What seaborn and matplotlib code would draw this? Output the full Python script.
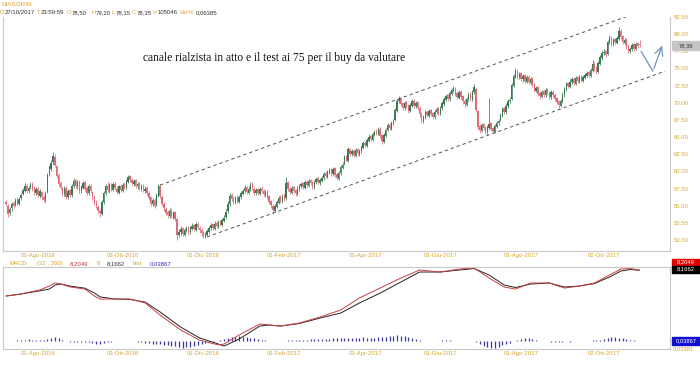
import numpy as np
import pandas as pd
import matplotlib
matplotlib.use("Agg")
import matplotlib.pyplot as plt
import seaborn as sns
from matplotlib.patches import Rectangle

# ---------------- data ----------------
open_ = [55.6, 55.0, 53.9, 54.6, 55.4, 55.1, 55.9, 55.3, 56.1, 56.7, 57.2, 57.9, 57.1, 57.7, 58.1, 57.6, 56.9, 57.5, 56.4, 57.0,
         56.3, 55.8, 57.0, 59.6, 60.4, 61.3, 62.1, 60.8, 59.5, 58.3, 57.5, 56.7, 57.6, 56.2, 57.3, 56.5, 57.9, 58.7, 57.8, 58.5,
         57.1, 57.6, 58.4, 57.6, 56.8, 57.9, 57.0, 56.3, 55.5, 54.8, 54.3, 53.8, 55.5, 56.8, 57.9, 57.2, 58.1, 57.3, 58.2, 57.5,
         56.9, 57.9, 57.2, 58.1, 57.6, 58.5, 59.3, 58.8, 58.2, 58.7, 57.8, 58.3, 57.5, 57.9, 57.2, 57.6, 56.9, 56.2, 55.2, 55.9,
         55.1, 56.4, 57.9, 56.3, 55.3, 54.5, 54.1, 53.5, 54.3, 53.4, 54.1, 53.0, 50.7, 51.1, 51.7, 50.8, 51.4, 51.9, 51.1, 51.6,
         52.2, 51.5, 52.4, 51.8, 51.5, 51.1, 50.5, 50.8, 51.2, 51.7, 52.3, 51.6, 52.5, 51.9, 52.7, 52.2, 52.8, 53.3, 54.2, 55.2,
         56.5, 56.1, 55.5, 56.2, 55.6, 56.3, 56.7, 57.1, 57.7, 56.9, 57.4, 58.2, 57.5, 56.8, 57.4, 56.7, 57.5, 57.2, 56.6, 57.1,
         56.4, 55.7, 55.0, 54.3, 54.8, 55.4, 56.2, 55.6, 56.5, 56.1, 58.4, 57.5, 56.9, 57.7, 57.3, 56.7, 57.4, 57.8, 58.3, 57.6,
         58.5, 57.9, 58.7, 58.4, 57.7, 58.4, 59.0, 58.3, 58.6, 59.0, 59.7, 59.2, 59.8, 60.3, 59.6, 60.5, 59.6, 58.9, 59.7, 60.5,
         61.1, 62.2, 61.5, 63.3, 62.5, 63.0, 62.3, 63.2, 62.6, 62.9, 63.4, 64.2, 63.7, 64.5, 65.1, 64.6, 65.3, 65.9, 65.5, 66.2,
         65.3, 64.3, 65.2, 66.1, 66.8, 66.2, 66.9, 67.5, 68.8, 70.2, 70.7, 69.9, 69.2, 70.1, 69.6, 68.8, 69.6, 70.3, 69.5, 70.1,
         69.3, 68.4, 67.3, 67.8, 68.7, 68.1, 68.9, 68.5, 67.9, 68.6, 69.2, 68.4, 69.2, 69.8, 70.4, 71.1, 70.5, 71.3, 71.7, 72.2,
         71.4, 70.7, 71.6, 71.0, 70.3, 69.7, 70.5, 71.3, 70.4, 71.5, 72.0, 68.8, 66.6, 65.9, 66.9, 66.4, 65.7, 66.3, 67.0, 66.3,
         65.8, 66.5, 67.0, 67.5, 68.1, 69.2, 68.6, 69.5, 70.3, 70.6, 72.5, 73.8, 74.7, 73.7, 74.3, 73.4, 74.0, 73.1, 73.8, 72.9,
         73.5, 72.7, 71.7, 72.3, 71.4, 70.9, 71.7, 71.1, 72.0, 71.5, 70.8, 71.6, 71.2, 70.7, 70.2, 69.6, 70.2, 71.1, 71.9, 72.9,
         72.3, 73.0, 73.5, 72.8, 73.7, 73.1, 73.9, 73.2, 73.6, 73.9, 74.5, 73.9, 74.7, 75.7, 75.1, 74.5, 75.7, 76.5, 77.3, 77.5,
         77.1, 78.8, 79.6, 78.5, 79.3, 78.7, 79.3, 80.5, 79.7, 78.7, 79.2, 78.3, 77.5, 77.8, 78.5, 77.9, 78.7, 78.5]
close = [55.2, 53.8, 54.5, 55.3, 55.0, 55.8, 55.4, 56.0, 56.6, 57.3, 57.9, 57.2, 57.6, 58.2, 57.5, 57.0, 57.4, 56.5, 57.1, 56.2,
         55.9, 56.8, 59.5, 60.6, 61.2, 62.3, 61.0, 59.4, 58.2, 57.6, 56.8, 57.5, 56.3, 57.2, 56.6, 57.8, 58.6, 57.9, 58.4, 57.2,
         57.7, 58.3, 57.5, 56.9, 57.8, 57.1, 56.2, 55.4, 54.9, 54.2, 53.9, 55.6, 56.9, 57.8, 57.3, 58.0, 57.4, 58.1, 57.6, 57.0,
         57.8, 57.3, 58.0, 57.7, 58.6, 59.2, 58.7, 58.3, 58.6, 57.9, 58.2, 57.6, 57.8, 57.3, 57.5, 56.8, 56.1, 55.3, 55.8, 55.0,
         56.5, 57.8, 56.4, 55.2, 54.6, 54.0, 53.6, 54.2, 53.5, 54.0, 53.1, 50.8, 51.2, 51.6, 50.9, 51.5, 51.8, 51.2, 51.7, 52.1,
         51.6, 52.3, 51.9, 51.4, 51.0, 50.6, 50.9, 51.3, 51.8, 52.2, 51.7, 52.4, 52.0, 52.6, 52.3, 52.9, 53.2, 54.1, 55.3, 56.4,
         56.0, 55.6, 56.1, 55.7, 56.2, 56.8, 57.2, 57.6, 57.0, 57.5, 58.1, 57.6, 56.9, 57.3, 56.8, 57.4, 57.1, 56.7, 57.0, 56.3,
         55.6, 55.1, 54.4, 54.9, 55.5, 56.1, 55.7, 56.4, 56.0, 58.3, 57.4, 57.0, 57.6, 57.2, 56.8, 57.5, 57.9, 58.2, 57.7, 58.4,
         58.0, 58.6, 58.3, 57.8, 58.5, 58.9, 58.4, 58.7, 59.1, 59.6, 59.3, 59.9, 60.2, 59.7, 60.4, 59.5, 59.0, 59.8, 60.6, 61.0,
         62.1, 61.6, 63.2, 62.6, 62.9, 62.4, 63.1, 62.7, 63.0, 63.5, 64.1, 63.8, 64.6, 65.0, 64.7, 65.4, 65.8, 65.6, 66.1, 65.2,
         64.4, 65.3, 66.0, 66.7, 66.3, 67.0, 67.4, 68.9, 70.3, 70.6, 69.8, 69.3, 70.0, 69.5, 68.9, 69.7, 70.2, 69.6, 70.0, 69.2,
         68.3, 67.4, 67.9, 68.6, 68.2, 68.8, 68.4, 68.0, 68.7, 69.1, 68.5, 69.3, 69.9, 70.5, 71.0, 70.6, 71.4, 71.8, 72.1, 71.3,
         70.8, 71.5, 70.9, 70.2, 69.8, 70.6, 71.2, 70.5, 71.6, 72.3, 69.0, 66.5, 66.0, 66.8, 66.3, 65.8, 66.4, 66.9, 66.2, 65.9,
         66.6, 67.1, 67.4, 68.2, 69.1, 68.7, 69.6, 70.2, 70.4, 72.6, 73.9, 74.6, 73.8, 74.2, 73.5, 73.9, 73.2, 73.7, 73.0, 73.4,
         72.6, 71.8, 72.2, 71.3, 71.0, 71.6, 71.2, 71.9, 71.4, 70.9, 71.5, 71.1, 70.6, 70.1, 69.7, 70.3, 71.2, 72.0, 72.8, 72.4,
         73.1, 73.4, 72.9, 73.6, 73.2, 73.8, 73.3, 73.7, 74.0, 74.4, 74.0, 74.8, 75.6, 75.0, 74.6, 75.8, 76.6, 77.2, 77.4, 77.0,
         78.9, 79.5, 78.6, 79.2, 78.8, 79.4, 80.4, 79.6, 78.8, 79.1, 78.2, 77.6, 77.9, 78.4, 77.8, 78.6, 78.3, 78.35]
high = [55.9, 55.2, 54.8, 55.6, 55.7, 56.1, 56.2, 56.3, 56.9, 57.6, 58.3, 58.1, 57.9, 58.5, 58.4, 57.8, 57.7, 57.7, 57.4, 57.2,
        56.5, 57.1, 59.8, 61.0, 61.6, 62.8, 62.5, 61.0, 59.7, 58.6, 57.7, 57.8, 57.8, 57.5, 57.5, 58.1, 59.0, 58.9, 58.7, 58.7,
        58.0, 58.6, 58.6, 57.8, 58.1, 58.1, 57.2, 56.5, 55.8, 55.1, 54.5, 55.9, 57.2, 58.1, 58.4, 58.3, 58.3, 58.4, 58.4, 57.8,
        58.0, 58.1, 58.3, 58.4, 58.9, 59.5, 59.5, 59.0, 58.9, 58.9, 58.5, 58.5, 58.1, 58.1, 57.8, 57.8, 57.1, 56.4, 56.1, 56.1,
        56.8, 58.2, 58.1, 56.5, 55.5, 54.8, 54.4, 54.6, 54.6, 54.3, 54.3, 53.2, 51.6, 52.0, 51.9, 51.8, 52.1, 52.1, 52.0, 52.5,
        52.4, 52.6, 52.6, 52.0, 51.7, 51.3, 51.2, 51.6, 52.1, 52.5, 52.5, 52.7, 52.7, 52.9, 52.9, 53.2, 53.6, 54.5, 55.7, 56.8,
        56.9, 56.4, 56.4, 56.5, 56.5, 57.1, 57.5, 58.0, 57.9, 57.8, 58.4, 58.4, 57.7, 57.6, 57.6, 57.7, 57.8, 57.4, 57.3, 57.3,
        56.6, 55.9, 55.2, 55.2, 55.8, 56.4, 56.5, 56.7, 56.8, 59.2, 58.6, 57.7, 57.9, 57.9, 57.5, 57.8, 58.2, 58.5, 58.5, 58.7,
        58.7, 58.9, 58.9, 58.6, 58.8, 59.2, 59.2, 59.0, 59.4, 59.9, 60.0, 60.2, 60.5, 60.5, 60.6, 60.7, 59.8, 60.1, 60.9, 61.4,
        62.4, 62.4, 63.5, 63.4, 63.2, 63.2, 63.4, 63.4, 63.3, 63.8, 64.4, 64.5, 64.9, 65.4, 65.3, 65.7, 66.1, 66.2, 66.5, 66.4,
        65.5, 65.6, 66.3, 67.0, 67.0, 67.3, 67.7, 69.3, 70.6, 71.0, 70.9, 70.1, 70.3, 70.3, 69.8, 70.0, 70.5, 70.5, 70.3, 70.3,
        69.5, 68.6, 68.2, 68.9, 68.9, 69.1, 69.1, 68.7, 69.0, 69.4, 69.4, 69.6, 70.2, 70.8, 71.3, 71.3, 71.7, 72.1, 72.4, 72.3,
        71.6, 71.8, 71.8, 71.2, 70.5, 70.9, 71.5, 71.5, 71.9, 72.8, 72.2, 69.0, 66.9, 67.1, 67.1, 66.6, 66.7, 70.7, 67.2, 66.5,
        66.9, 67.4, 67.7, 68.5, 69.4, 69.4, 69.9, 70.5, 70.8, 72.9, 74.2, 75.0, 74.9, 74.5, 74.5, 74.2, 74.2, 74.0, 74.0, 73.7,
        73.7, 72.9, 72.5, 72.5, 71.7, 71.9, 71.9, 72.2, 72.2, 71.7, 71.8, 71.8, 71.4, 70.9, 70.4, 70.6, 71.5, 72.3, 73.1, 73.1,
        73.4, 73.7, 73.7, 73.9, 73.9, 74.1, 74.1, 74.0, 74.3, 74.7, 74.7, 75.1, 76.2, 75.9, 75.3, 76.1, 76.9, 77.6, 77.8, 77.7,
        79.2, 79.9, 79.8, 79.5, 79.5, 79.7, 81.0, 80.7, 79.9, 79.4, 79.4, 78.5, 78.2, 78.7, 78.7, 78.9, 78.9, 79.2]
low = [54.9, 53.3, 53.6, 54.3, 54.7, 54.9, 55.1, 55.1, 55.9, 56.5, 57.0, 56.9, 56.8, 57.4, 57.2, 56.6, 56.6, 56.2, 56.1, 55.9,
       55.6, 55.6, 56.8, 59.3, 60.1, 61.0, 60.7, 59.1, 57.9, 57.3, 56.4, 56.4, 56.0, 56.0, 56.3, 56.3, 57.6, 57.6, 57.5, 56.9,
       56.8, 57.4, 57.2, 56.6, 56.6, 56.8, 55.9, 55.1, 54.6, 53.9, 53.3, 53.6, 55.3, 56.6, 57.0, 56.9, 57.1, 57.1, 57.3, 56.7,
       56.7, 57.0, 57.0, 57.4, 57.4, 58.3, 58.4, 58.0, 57.9, 57.6, 57.5, 57.3, 57.2, 57.0, 56.9, 56.5, 55.8, 55.0, 54.9, 54.7,
       54.9, 56.2, 56.1, 54.9, 54.2, 53.6, 53.2, 53.2, 53.2, 53.1, 52.8, 50.0, 50.4, 50.8, 50.6, 50.6, 51.1, 50.9, 50.9, 51.4,
       51.3, 51.3, 51.6, 51.0, 50.6, 50.3, 50.3, 50.6, 51.0, 51.5, 51.4, 51.4, 51.7, 51.7, 52.0, 52.0, 52.6, 53.1, 54.0, 55.0,
       55.7, 55.3, 55.3, 55.4, 55.4, 56.0, 56.5, 56.9, 56.7, 56.7, 57.2, 57.3, 56.6, 56.5, 56.5, 56.5, 56.8, 56.4, 56.3, 56.0,
       55.3, 54.7, 53.8, 54.1, 54.6, 55.2, 55.4, 55.4, 55.7, 55.9, 57.1, 56.7, 56.7, 56.9, 56.4, 56.5, 57.2, 57.6, 57.4, 57.4,
       57.7, 57.7, 58.0, 57.4, 57.5, 58.2, 58.1, 58.0, 58.4, 58.8, 59.0, 59.0, 59.6, 59.4, 59.4, 59.2, 58.7, 58.7, 59.5, 60.3,
       60.9, 61.3, 61.3, 62.3, 62.2, 62.1, 62.1, 62.4, 62.3, 62.7, 63.2, 63.5, 63.5, 64.3, 64.4, 64.4, 65.1, 65.3, 65.3, 64.9,
       64.0, 64.1, 65.0, 65.9, 66.0, 66.0, 66.7, 67.3, 68.6, 69.9, 69.5, 69.0, 69.0, 69.2, 68.5, 68.6, 69.4, 69.3, 69.3, 68.9,
       68.0, 67.0, 67.1, 67.6, 67.9, 67.9, 68.1, 67.6, 67.7, 68.4, 68.2, 68.2, 69.0, 69.6, 70.2, 70.3, 70.3, 71.1, 71.5, 71.0,
       70.5, 70.5, 70.6, 69.8, 69.4, 69.5, 70.3, 70.2, 70.2, 71.3, 68.6, 66.1, 65.6, 65.7, 66.0, 65.4, 65.5, 66.1, 65.9, 65.6,
       65.6, 66.3, 66.8, 67.3, 67.9, 68.4, 68.4, 69.3, 70.0, 70.4, 72.3, 73.6, 73.5, 73.4, 73.2, 73.1, 72.9, 72.9, 72.7, 72.6,
       72.3, 71.5, 71.5, 71.0, 70.6, 70.7, 70.9, 70.9, 71.1, 70.6, 70.6, 70.8, 70.3, 69.8, 69.2, 69.4, 70.0, 70.9, 71.7, 72.1,
       72.1, 72.8, 72.6, 72.6, 72.9, 72.9, 73.0, 73.0, 73.4, 73.7, 73.7, 73.7, 74.5, 74.7, 74.2, 74.3, 75.5, 76.3, 77.0, 76.6,
       76.9, 78.6, 78.3, 78.3, 78.5, 78.5, 79.1, 79.3, 78.5, 78.4, 77.9, 77.3, 77.3, 77.6, 77.5, 77.7, 78.0, 78.15]

# MACD (red) and signal (black), read at selected bars
macd_bar = [0, 7, 18, 23, 26, 29, 34, 42, 47, 50, 58, 66, 74, 82, 93, 103, 113, 116, 124, 135,
            140, 146, 156, 167, 178, 188, 199, 210, 220, 231, 241, 249, 257, 265, 271, 279, 289, 297, 305, 313,
            321, 327, 332, 337]
macd = [5.2, 5.4, 5.9, 6.35, 6.7, 6.6, 6.25, 6.0, 5.2, 4.85, 4.85, 4.85, 4.4, 3.0, 1.27, 0.1, -0.45, -0.35, 0.7, 1.96,
        1.85, 1.73, 2.08, 2.77, 3.58, 4.97, 6.12, 7.27, 8.2, 7.97, 8.31, 8.43, 7.27, 6.24, 6.0, 6.7, 6.7, 6.12, 6.35, 6.7,
        7.62, 8.31, 8.37, 8.2049]
signal = [5.2, 5.4, 5.8, 6.0, 6.45, 6.6, 6.35, 6.1, 5.55, 5.1, 4.85, 4.8, 4.5, 3.35, 1.6, 0.35, -0.35, -0.58, 0.23, 1.73,
          1.85, 1.73, 2.02, 2.65, 3.23, 4.39, 5.54, 6.81, 7.97, 7.97, 8.2, 8.37, 7.62, 6.47, 6.18, 6.58, 6.7, 6.24, 6.35, 6.64,
          7.39, 8.08, 8.26, 8.1662]
# histogram, one value every second bar
hist = [0.05, 0.06, 0.05, 0.08, 0.12, 0.16, 0.18, 0.15,
        0.10, 0.08, 0.12, 0.25, 0.38, 0.45, 0.30,
        0.08, -0.05, -0.10, -0.12, -0.15, -0.12, -0.10, -0.14,
        -0.25, -0.32, -0.35, -0.28, -0.15, -0.06,
        -0.03, 0.02, -0.02, 0.03, 0.01, -0.04, -0.06,
        -0.12, -0.2, -0.26, -0.3, -0.36, -0.4, -0.45, -0.5,
        -0.55, -0.62, -0.7, -0.75, -0.72, -0.65, -0.55, -0.45,
        -0.35, -0.25, -0.15, -0.06, 0.05, 0.15, 0.25,
        0.35, 0.45, 0.52, 0.55, 0.5, 0.45, 0.38, 0.3, 0.22, 0.15,
        0.08, 0.04, 0.02, 0.03, 0.05, 0.06,
        0.08, 0.1, 0.1, 0.12, 0.15, 0.14, 0.18, 0.2, 0.22, 0.2, 0.25, 0.28, 0.3, 0.32,
        0.35, 0.32, 0.38, 0.4, 0.35, 0.38, 0.42, 0.4, 0.36, 0.4, 0.45, 0.48, 0.5, 0.55, 0.6,
        0.65, 0.62, 0.58, 0.5, 0.4, 0.25, 0.12,
        0.05, 0.02, 0.0, 0.03, 0.06, 0.08, 0.1, 0.08, 0.06, 0.05, 0.04, 0.03, 0.02, 0.0,
        -0.15, -0.35, -0.55, -0.7, -0.8, -0.75, -0.65, -0.5, -0.35, -0.2, -0.05,
        0.15, 0.28, 0.35, 0.3, 0.22, 0.12, 0.05,
        0.02, -0.03, -0.06, -0.08, -0.1, -0.08, -0.05, -0.06, -0.04, -0.02, 0.02, 0.05, 0.06, 0.08, 0.1,
        0.15, 0.25, 0.35, 0.42, 0.45, 0.4, 0.32, 0.25, 0.15, 0.08, 0.04]

tick_dates = ["2016-08-01", "2016-10-03", "2016-12-01", "2017-02-01", "2017-04-03",
              "2017-06-01", "2017-08-01", "2017-10-02"]
tick_labels = ["01-Ago-2016", "03-Ott-2016", "01-Dic-2016", "01-Feb-2017", "03-Apr-2017",
               "01-Giu-2017", "01-Ago-2017", "02-Ott-2017"]
price_ticks = [50.0, 52.5, 55.0, 57.5, 60.0, 62.5, 65.0, 67.5, 70.0, 72.5, 75.0, 77.5, 80.0, 82.5]
holidays = ["2016-12-26", "2017-04-14", "2017-04-17", "2017-05-01"]

# hand-drawn annotations (bar index, price)
upper_channel = ([81.9, 342.6], [58.0, 83.8])
lower_channel = ([106.9, 350.5], [50.44, 74.6])
arrow_path = ([337.8, 344.1, 349.5], [77.5, 74.6, 78.7])
note = "canale rialzista in atto e il test ai 75 per il buy da valutare"

# ---------------- styling ----------------
sns.set_theme(style="white")
plt.rcParams['font.family'] = ['Liberation Sans', 'DejaVu Sans']

GOLD = "#d9a52a"
DARK = "#333333"
UP = "#3b7a52"
DOWN = "#e26a78"
FRAME = "#c8c8c8"

W, H = 700, 365
fig = plt.figure(figsize=(7.0, 3.65), dpi=100)
fx = lambda px: px / W
fy = lambda py: 1 - py / H

ax = fig.add_axes([fx(3), fy(251), fx(670) - fx(3), fy(17) - fy(251)])
axm = fig.add_axes([fx(3), fy(349), fx(670) - fx(3), fy(267) - fy(349)])

dates = pd.bdate_range("2016-07-07", "2017-10-27")
dates = dates.drop(pd.to_datetime(holidays))
n = len(close)
x = np.arange(n)
o = np.array(open_); c = np.array(close); h = np.array(high); l = np.array(low)
cols = np.where(c >= o, UP, DOWN)

ax.vlines(x, l, h, colors=cols, linewidth=0.55)
body = np.maximum(np.abs(c - o), 0.06)
ax.bar(x, body, bottom=np.minimum(o, c), width=0.75, color=cols, linewidth=0)

for xs, ys in (upper_channel, lower_channel):
    ax.plot(xs, ys, color="#555555", lw=0.7, ls=(0, (3.5, 3)))
ax.plot(arrow_path[0][:2], arrow_path[1][:2], color="#6f92c2", lw=0.9)
ax.annotate("", xy=(arrow_path[0][2], arrow_path[1][2]), xytext=(arrow_path[0][1], arrow_path[1][1]),
            arrowprops=dict(arrowstyle="->,head_length=0.5,head_width=0.25", color="#6f92c2", lw=0.9))

xlim = (-1.6, 353.2)
ax.set_xlim(*xlim)
ax.set_ylim(48.4, 82.5)
tick_pos = [int(dates.get_loc(pd.Timestamp(d))) for d in tick_dates]

for a in (ax, axm):
    a.set_xlim(*xlim)
    a.set_xticks(tick_pos)
    a.set_xticklabels(tick_labels)
    a.tick_params(axis="x", length=0, pad=1.5, labelsize=4.3, labelcolor=GOLD)
    for s in a.spines.values():
        s.set_color(FRAME)
        s.set_linewidth(0.8)
    a.grid(False)
ax.spines["top"].set_visible(False)

ax.yaxis.tick_right()
ax.set_yticks(price_ticks)
ax.set_yticklabels([f"{v:.2f}" for v in price_ticks])
ax.tick_params(axis="y", length=0, pad=2.5, labelsize=4.3, labelcolor=GOLD)

# MACD panel
hx = x[::2][:len(hist)]
axm.vlines(hx, 0, hist, colors="#3a3aa0", linewidth=0.9)
sns.lineplot(x=macd_bar, y=signal, ax=axm, color="#222222", lw=0.7)
sns.lineplot(x=macd_bar, y=macd, ax=axm, color="#c94040", lw=0.7)
axm.set_ylim(-0.92, 8.55)
axm.set_yticks([])
axm.set_ylabel("")

# annotation text
fig.text(fx(143), fy(57.5), note, family=["Liberation Serif"], fontsize=8.3, color="#111111", va="center", ha="left")

# header
fig.text(fx(1), fy(4.5), "DIASORIN", color="#e39a35", fontsize=4.6, va="center")
header = [("D", 0, GOLD), ("27/10/2017", 4.5, DARK), ("T", 37, GOLD), ("23:59:59", 41, DARK),
          ("O", 67, GOLD), ("78,50", 72, DARK), ("H", 91, GOLD), ("79,20", 95.5, DARK),
          ("L", 112, GOLD), ("78,15", 115.5, DARK), ("C", 132, GOLD), ("78,35", 136.5, DARK),
          ("V", 153, GOLD), ("105046", 157.5, DARK), ("Var%", 180, GOLD), ("0,06385", 196, DARK)]
for t, px, col in header:
    fig.text(fx(px), fy(13), t, color=col, fontsize=4.3, va="center")

macd_head = [("MACD", 10, GOLD), ("(32 , 200)", 37, GOLD), ("8,2049", 70, "#c03030"), ("8", 97, GOLD),
             ("8,1662", 107, DARK), ("hist", 133, GOLD), ("0,03867", 150, "#2a2ab0")]
for t, px, col in macd_head:
    fig.text(fx(px), fy(263.5), t, color=col, fontsize=4.3, va="center")

# right-side value boxes
def box(y0, y1, color, text, tcolor):
    fig.patches.append(Rectangle((fx(672), fy(y1)), fx(700) - fx(672), fy(y0) - fy(y1),
                                 transform=fig.transFigure, color=color, zorder=5))
    fig.text(fx(686), fy((y0 + y1) / 2), text, color=tcolor, fontsize=4.2, ha="center", va="center", zorder=6)

box(41.5, 49.5, "#c4c4c4", "78,36", DARK)
box(259, 265.5, "#e00000", "8,2049", "white")
box(266, 272.5, "#000000", "8,1662", "white")
box(337, 345, "#1010d0", "0,03867", "white")
fig.text(fx(673), fy(349), "0,03381", color=GOLD, fontsize=4.2, va="center")

fig.savefig("out.png", dpi=100)
